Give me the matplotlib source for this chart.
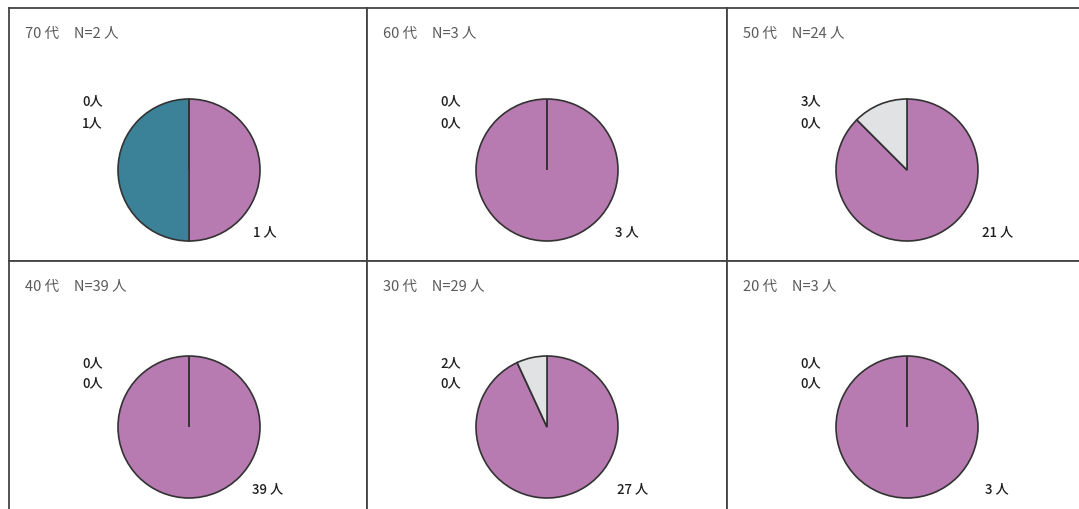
import matplotlib
matplotlib.use("Agg")
from matplotlib import pyplot as plt

plt.rcParams['font.family'] = ['Noto Sans CJK JP', 'DejaVu Sans']

# data per panel (row by row)
ages = ["70", "60", "50", "40", "30", "20"]
n_total = [2, 3, 24, 39, 29, 3]
purple_vals = [1, 3, 21, 39, 27, 3]
teal_vals = [1, 0, 0, 0, 0, 0]
gray_vals = [0, 0, 3, 0, 2, 0]

colors_ = ["#b77ab1", "#3b8299", "#e1e2e4"]
edge = "#333333"

W, H = 1079, 509
fig = plt.figure(figsize=(W / 100, H / 100), dpi=100)

# cell layout in pixels (top-left origin)
col_x = [9, 367, 727]
col_w = [358, 360, 370]
row_y = [8, 261]
row_h = [253, 258]
pie_off = [(180, 162), (180, 166)]   # pie centre inside cell
label_dx = [64, 68, 75, 63, 70, 78]  # left edge of lower-right label
top_dy = [(69, 47), (64, 44)]        # upper-left label rows above centre
R = 71

for i in range(6):
    r, c = divmod(i, 3)
    x0, y0, w, h = col_x[c], row_y[r], col_w[c], row_h[r]
    ax = fig.add_axes([x0 / W, 1 - (y0 + h) / H, w / W, h / H])
    ax.set_xticks([])
    ax.set_yticks([])
    for s in ax.spines.values():
        s.set_color("#444444")
        s.set_linewidth(1.3)
    cx, cy = pie_off[r][0], h - pie_off[r][1]

    vals = [purple_vals[i], teal_vals[i], gray_vals[i]]
    ax.pie(vals, colors=colors_, startangle=90, counterclock=False,
           center=(cx, cy), radius=R, frame=True,
           wedgeprops=dict(edgecolor=edge, linewidth=1.2))
    ax.set_xlim(0, w)
    ax.set_ylim(0, h)
    ax.set_aspect('auto')

    ax.text(16, h - 26, f"{ages[i]} 代　N={n_total[i]} 人", fontsize=10.5,
            color="#5a5a5a", ha="left", va="center")
    ax.text(cx - 86, cy + top_dy[r][0], f"{gray_vals[i]}人", fontsize=9.5,
            color="#1e1e1e", ha="right", va="center", fontweight="medium")
    ax.text(cx - 86, cy + top_dy[r][1], f"{teal_vals[i]}人", fontsize=9.5,
            color="#1e1e1e", ha="right", va="center", fontweight="medium")
    ax.text(cx + label_dx[i], cy - 62, f"{purple_vals[i]} 人", fontsize=9.5,
            color="#1e1e1e", ha="left", va="center", fontweight="medium")

fig.savefig("out.png", dpi=100, facecolor="white")
